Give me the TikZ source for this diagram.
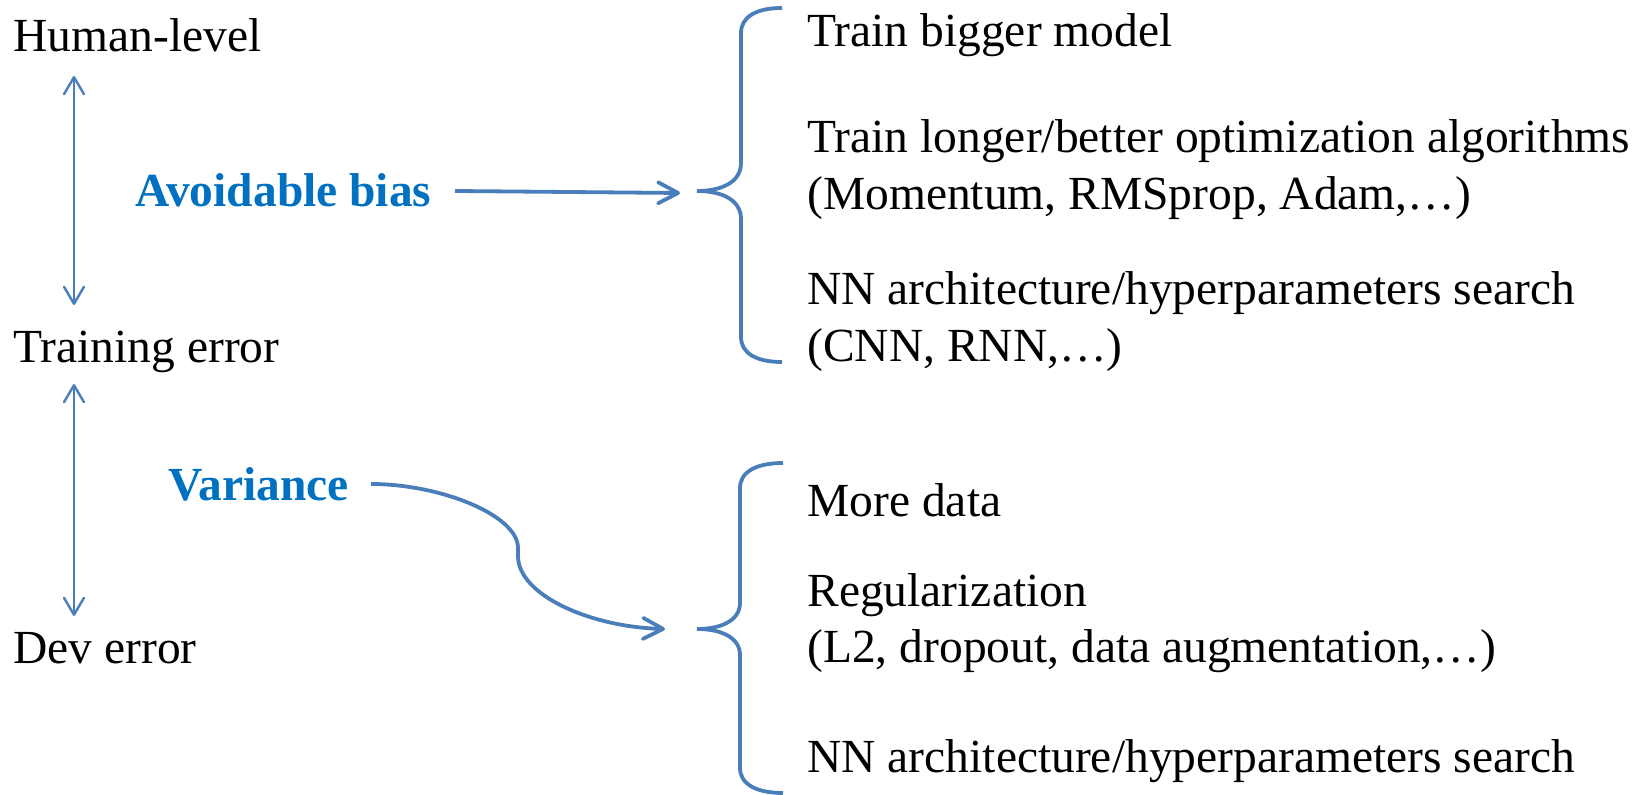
\documentclass[tikz,border=0pt]{standalone}
\usepackage{fontspec}
\setmainfont{Liberation Serif}
\usetikzlibrary{arrows.meta,calc}
\definecolor{linkblue}{RGB}{74,126,187}
\definecolor{labelblue}{RGB}{0,112,192}
\begin{document}
\begin{tikzpicture}[x=0.5pt,y=-0.5pt,
  txt/.style={anchor=base west,inner sep=0pt,font=\fontsize{23.75}{28}\selectfont},
  lbl/.style={anchor=base west,inner sep=0pt,font=\fontsize{23.75}{28}\selectfont\bfseries,text=labelblue},
  gap/.style={draw=linkblue,line width=1.2pt,
    {Straight Barb[length=8.5pt,width=10pt,round]}-{Straight Barb[length=8.5pt,width=10pt,round]}},
  lead/.style={draw=linkblue,line width=1.9pt,-{Straight Barb[length=10pt,width=10.5pt,round]}},
  bracket/.style={draw=linkblue,line width=1.9pt}]
\useasboundingbox (0,0) rectangle (1651,795);

% error levels
\node[txt] (hl) at (13,52) {Human-level};
\node[txt] (te) at (13,363) {Training error};
\node[txt] (de) at (13,664) {Dev error};

% gaps between the levels
\node[lbl] (bias) at (135,207) {Avoidable bias};
\node[lbl] (var) at (168,501) {Variance};

% remedies for bias
\node[txt] (r1) at (807,47) {Train bigger model};
\node[txt] (r2) at (807,153) {Train longer/better optimization algorithms};
\node[txt] (r3) at (807,210) {(Momentum, RMSprop, Adam,…)};
\node[txt] (r4) at (807,305) {NN architecture/hyperparameters search};
\node[txt] (r5) at (807,362) {(CNN, RNN,…)};

% remedies for variance
\node[txt] (s1) at (807,517) {More data};
\node[txt] (s2) at (807,607) {Regularization};
\node[txt] (s3) at (807,663) {(L2, dropout, data augmentation,…)};
\node[txt] (s4) at (807,773) {NN architecture/hyperparameters search};

% end points of the connectors
\coordinate (hlgap) at (74,76);
\coordinate (tegapA) at (74,305);
\coordinate (tegapB) at (74,384);
\coordinate (degap) at (74,616);
\coordinate (biasout) at (455,191);
\coordinate (varout) at (371,484);
\coordinate (tipA) at (697,191);
\coordinate (tipB) at (697,629);

% double arrows between levels
\draw[gap] (hlgap) -- (tegapA);
\draw[gap] (tegapB) -- (degap);

% leads to the braces
\draw[lead] (biasout) -- ($(tipA)+(-17,2)$);
\draw[lead] (varout) .. controls (440,484) and (518,515) .. (518,548)
  -- (518,556) .. controls (518,595) and (590,627) .. ($(tipB)+(-32,0)$);

% braces
\draw[bracket] (782,8) .. controls (756,8) and (741,17) .. (741,33)
  -- (741,163) .. controls (741,182) and (722,191) .. (tipA)
  .. controls (722,191) and (741,200) .. (741,219)
  -- (741,337) .. controls (741,353) and (756,362) .. (782,362);
\draw[bracket] (783,463) .. controls (756,463) and (740,472) .. (740,488)
  -- (740,603) .. controls (740,620) and (722,629) .. (tipB)
  .. controls (722,629) and (740,638) .. (740,655)
  -- (740,768) .. controls (740,784) and (756,793) .. (783,793);
\end{tikzpicture}
\end{document}
